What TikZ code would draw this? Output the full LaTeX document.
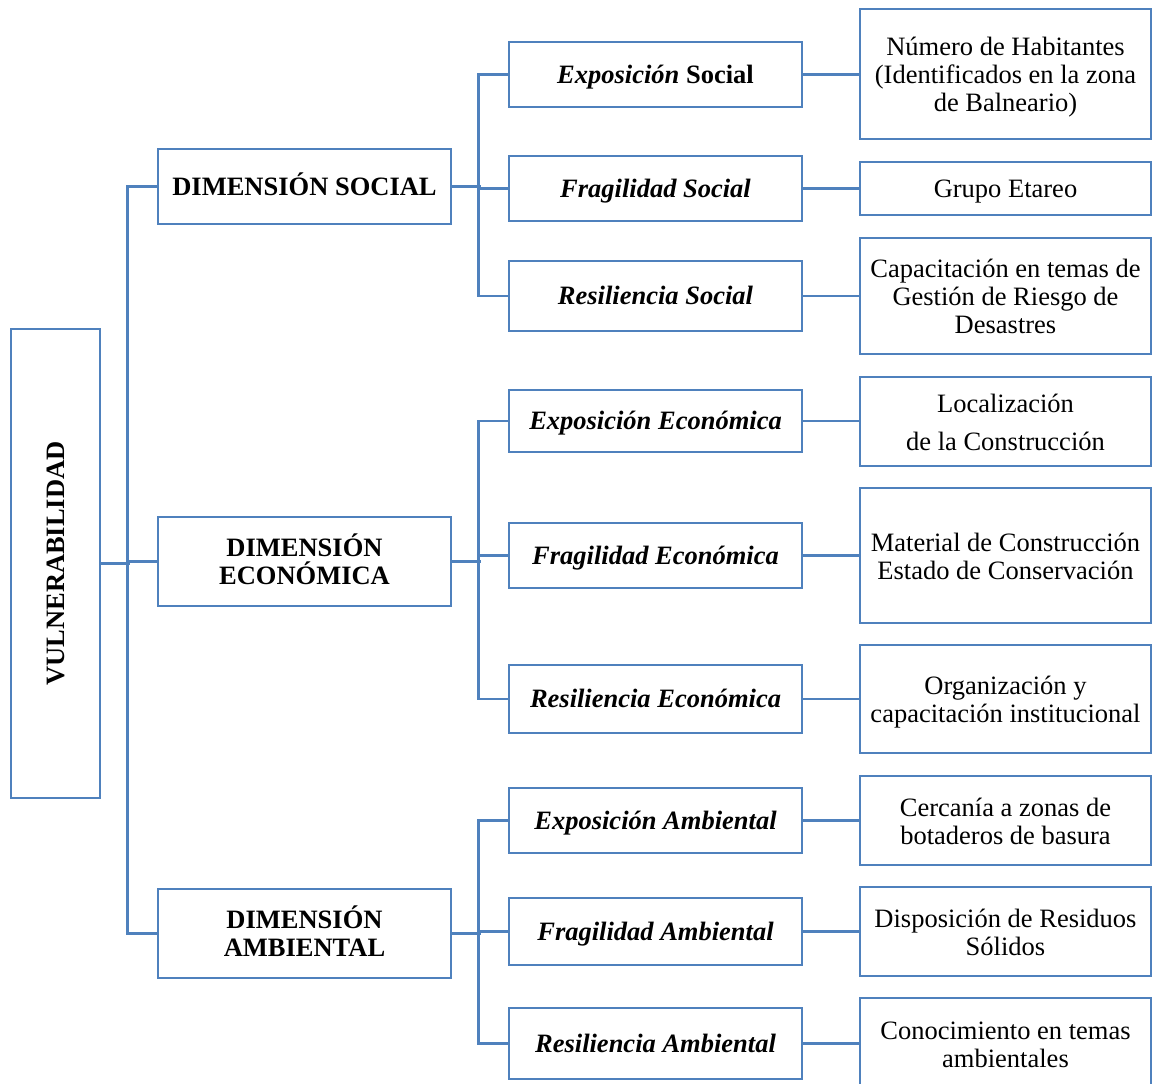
\documentclass[tikz,border=0pt]{standalone}
\usepackage{fontspec}
\setmainfont{Liberation Serif}
\definecolor{lineblue}{RGB}{79,129,189}
\newcommand{\topstrut}[1]{\rule{0pt}{#1}}
\begin{document}
\begin{tikzpicture}[x=1pt,y=-1pt,
  base/.style={draw=lineblue,line width=2.8pt,fill=white,align=center,inner sep=0pt,
    font=\fontsize{26.5}{28}\selectfont},
  box/.style={base,
    execute at begin node={\rule{0pt}{25pt}},
    execute at end node={\rule[-8pt]{0pt}{0pt}}},
  dim/.style={box,minimum width=293pt,font=\fontsize{26.5}{28}\selectfont\bfseries},
  lev/.style={box,minimum width=293pt,font=\fontsize{26.5}{28}\selectfont\bfseries\itshape},
  ind/.style={box,minimum width=291pt},
  conn/.style={draw=lineblue,line width=2.8pt}]
\useasboundingbox (0,0) rectangle (1152,1084);
\fill[white] (0,0) rectangle (1152,1084);
% root
\node[base,minimum width=89pt,minimum height=469pt,font=\fontsize{26.5}{28}\selectfont\bfseries] (v) at (55.5,563.5) {\rotatebox{90}{VULNERABILIDAD}};
% dimensions
\node[dim,minimum height=75pt] (ds) at (304.5,186.5) {DIMENSIÓN SOCIAL};
\node[dim,minimum height=89pt] (de) at (304.5,561.5) {\topstrut{26pt}DIMENSIÓN\\ECONÓMICA};
\node[dim,minimum height=89pt] (da) at (304.5,933.5) {\topstrut{26pt}DIMENSIÓN\\AMBIENTAL};
% level 2
\node[lev,minimum height=65pt] (es) at (655.5,74.5) {Exposición \upshape Social};
\node[lev,minimum height=65pt] (fs) at (655.5,188.5) {Fragilidad Social};
\node[lev,minimum height=70pt] (rs) at (655.5,296) {Resiliencia Social};
\node[lev,minimum height=62pt] (ee) at (655.5,421) {Exposición Económica};
\node[lev,minimum height=65pt] (fe) at (655.5,555.5) {Fragilidad Económica};
\node[lev,minimum height=68pt] (re) at (655.5,699) {Resiliencia Económica};
\node[lev,minimum height=65pt] (ea) at (655.5,820.5) {Exposición Ambiental};
\node[lev,minimum height=67pt] (fa) at (655.5,931.5) {Fragilidad Ambiental};
\node[lev,minimum height=71pt] (ra) at (655.5,1043.5) {Resiliencia Ambiental};
% level 3
\node[ind,minimum height=130pt] (n1) at (1005.5,74) {\topstrut{27pt}Número de Habitantes\\(Identificados en la zona\\de Balneario)};
\node[ind,minimum height=53pt] (n2) at (1005.5,188.5) {Grupo Etareo};
\node[ind,minimum height=116pt] (n3) at (1005.5,296) {\topstrut{27pt}Capacitación en temas de\\Gestión de Riesgo de\\Desastres};
\node[ind,minimum height=89pt] (n4) at (1005.5,421.5) {\topstrut{27pt}Localización\\[10pt]de la Construcción};
\node[ind,minimum height=135pt] (n5) at (1005.5,555.5) {\topstrut{27pt}Material de Construcción\\Estado de Conservación};
\node[ind,minimum height=108pt] (n6) at (1005.5,699) {\topstrut{27pt}Organización y\\capacitación institucional};
\node[ind,minimum height=89pt] (n7) at (1005.5,820.5) {\topstrut{27pt}Cercanía a zonas de\\botaderos de basura};
\node[ind,minimum height=89pt] (n8) at (1005.5,931.5) {\topstrut{27pt}Disposición de Residuos\\Sólidos};
\node[ind,minimum height=92pt] (n9) at (1005.5,1044) {\topstrut{27pt}Conocimiento en temas\\ambientales};
% connectors root -> dimensions
\draw[conn] (v.east) -- ++(29,0);
\draw[conn] (ds.west) -- ++(-29,0) |- (da.west);
\draw[conn] (de.west) -- ++(-29,0);
% dimensions -> level 2
\draw[conn] (ds.east) -- ++(29,0);
\draw[conn] (es.west) -- ++(-29,0) |- (rs.west);
\draw[conn] (fs.west) -- ++(-29,0);
\draw[conn] (de.east) -- ++(29,0);
\draw[conn] (ee.west) -- ++(-29,0) |- (re.west);
\draw[conn] (fe.west) -- ++(-29,0);
\draw[conn] (da.east) -- ++(29,0);
\draw[conn] (ea.west) -- ++(-29,0) |- (ra.west);
\draw[conn] (fa.west) -- ++(-29,0);
% level 2 -> level 3
\foreach \a/\b in {es/n1,fs/n2,rs/n3,ee/n4,fe/n5,re/n6,ea/n7,fa/n8,ra/n9}
  \draw[conn] (\a.east) -- (\a.east -| \b.west);
\end{tikzpicture}
\end{document}
